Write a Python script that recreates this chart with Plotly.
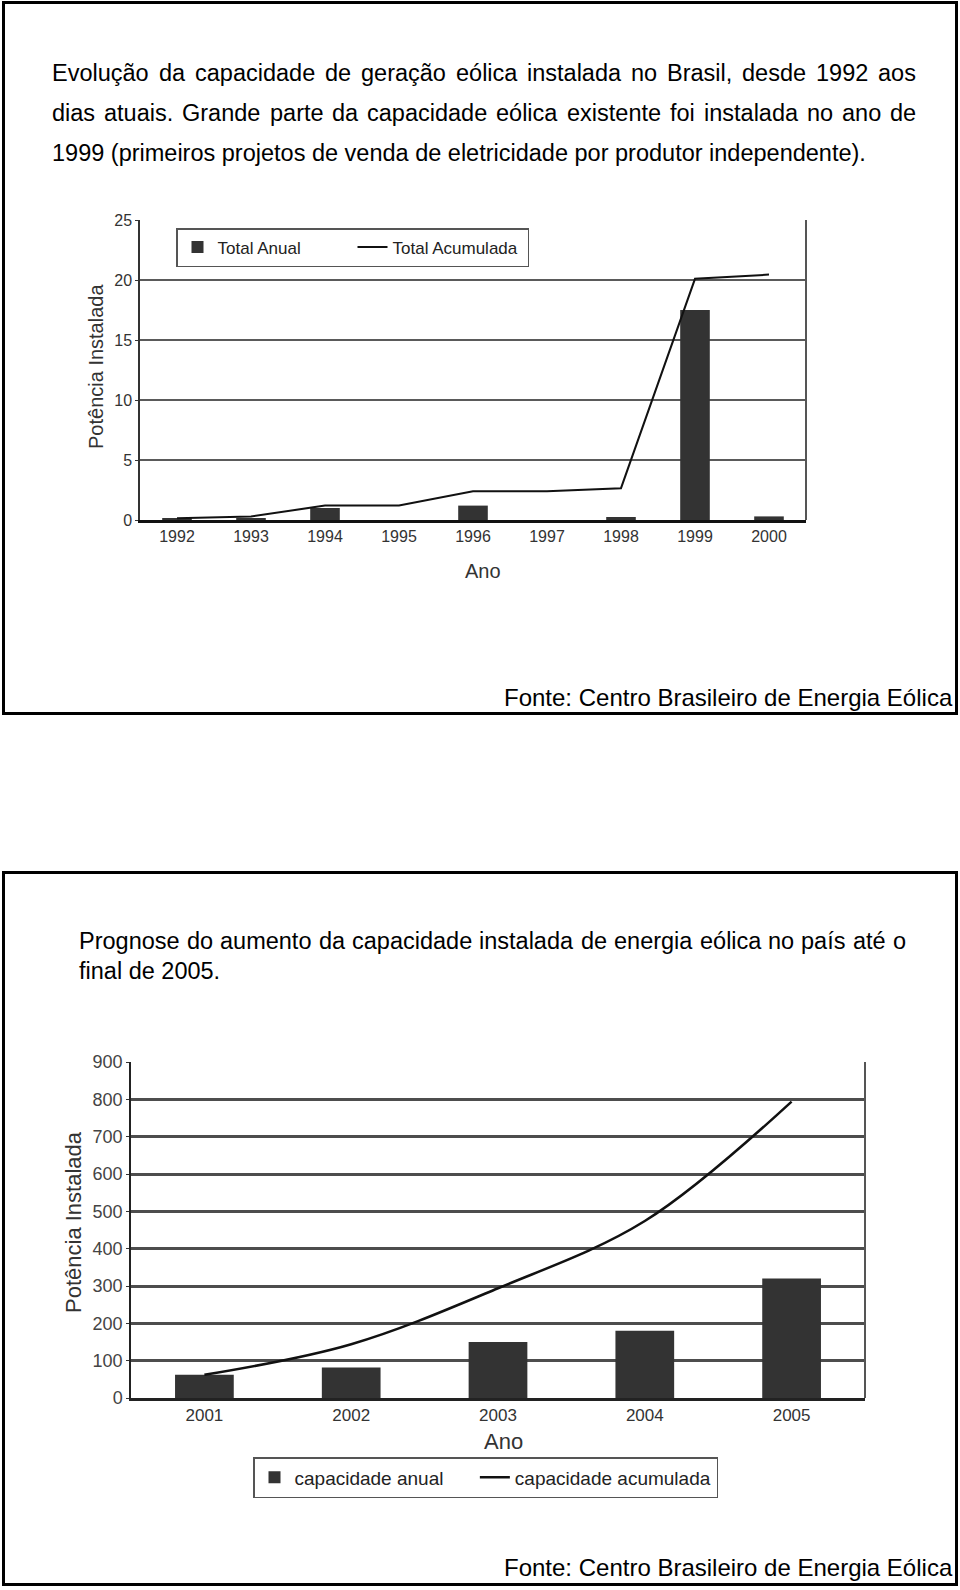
import plotly.graph_objects as go

# ---------------- data ----------------
anos1 = ["1992", "1993", "1994", "1995", "1996", "1997", "1998", "1999", "2000"]
total_anual = [0.15, 0.15, 1.0, 0.0, 1.2, 0.0, 0.25, 17.5, 0.3]
total_acumulada = [0.15, 0.3, 1.2, 1.2, 2.4, 2.4, 2.65, 20.1, 20.45]
yticks1 = [0, 5, 10, 15, 20, 25]

anos2 = ["2001", "2002", "2003", "2004", "2005"]
cap_anual = [62, 82, 150, 180, 320]
cap_acumulada = [62, 144, 294, 474, 794]
yticks2 = [0, 100, 200, 300, 400, 500, 600, 700, 800, 900]

par1 = [
    "Evolução da capacidade de geração eólica instalada no Brasil, desde 1992 aos",
    "dias atuais. Grande parte da capacidade eólica existente foi instalada no ano de",
    "1999 (primeiros projetos de venda de eletricidade por produtor independente).",
]
par2 = [
    "Prognose do aumento da capacidade instalada de energia eólica no país até o",
    "final de 2005.",
]
fonte = "Fonte: Centro Brasileiro de Energia Eólica"

W, H = 960, 1590
FONT = "Liberation Sans, Arial, sans-serif"


def px(x):
    return x / W


def py(y):
    return 1 - y / H


# Arial advance widths (1/1000 em)
AW = {}
for c in "abdeghnopqu": AW[c] = 556
for c in "ckszxvy": AW[c] = 500
AW.update({"f": 278, "i": 222, "j": 222, "l": 222, "m": 833, "r": 333, "t": 278, "w": 722})
AW.update({"ç": 500, "ã": 556, "ó": 556, "é": 556, "í": 278, "ê": 556, "á": 556})
AW.update({"A": 667, "B": 667, "C": 722, "E": 667, "F": 611, "G": 778, "P": 667, "T": 611, "I": 278})
for c in "0123456789": AW[c] = 556
AW.update({" ": 278, ",": 278, ".": 278, "(": 333, ")": 333, ":": 278})


def tw(s, size):
    return sum(AW.get(c, 556) for c in s) * size / 1000.0


annotations = []


def ann(text, x, y, size, color="#000", xanchor="left", angle=0):
    annotations.append(dict(text=text, x=px(x), y=py(y), xref="paper", yref="paper",
                            xanchor=xanchor, yanchor="middle", showarrow=False, borderpad=0,
                            textangle=angle, font=dict(family=FONT, size=size, color=color)))


def text_line(line, x0, x1, yc, size, justify):
    if not justify:
        ann(line, x0, yc, size)
        return
    words = line.split(" ")
    widths = [tw(w, size) for w in words]
    gap = max(0.278 * size, (x1 - x0 - sum(widths)) / (len(words) - 1))
    x = x0
    for w, wd in zip(words, widths):
        ann(w, x, yc, size)
        x += wd + gap


PS = 23.5
text_line(par1[0], 51, 915, 73, PS, True)
text_line(par1[1], 51, 915, 112.5, PS, True)
text_line(par1[2], 51, 915, 153, PS, False)
text_line(par2[0], 78, 905, 941, PS, True)
text_line(par2[1], 78, 905, 971, PS, False)

for yc in (697, 1567):
    ann(fonte, 954, yc, 24, xanchor="right")

# axis titles
ann("Potência Instalada", 96, 367, 20, color="#333", xanchor="center", angle=-90)
ann("Ano", 483, 571, 20, color="#333", xanchor="center")
ann("Potência Instalada", 73, 1222, 22, color="#333", xanchor="center", angle=-90)
ann("Ano", 503, 1441, 22, color="#333", xanchor="center")

fig = go.Figure()

# chart 1
fig.add_trace(go.Bar(x=anos1, y=total_anual, name="Total Anual", marker=dict(color="#333333", line=dict(width=0)),
                     width=0.4, xaxis="x", yaxis="y", legend="legend"))
fig.add_trace(go.Scatter(x=anos1, y=total_acumulada, name="Total Acumulada", mode="lines",
                         line=dict(color="#111", width=2), xaxis="x", yaxis="y", legend="legend"))
# chart 2
fig.add_trace(go.Bar(x=anos2, y=cap_anual, name="capacidade anual" + "\u00a0" * 5,
                     marker=dict(color="#333333", line=dict(width=0)),
                     width=0.4, xaxis="x2", yaxis="y2", legend="legend2"))
fig.add_trace(go.Scatter(x=anos2, y=cap_acumulada, name="capacidade acumulada", mode="lines",
                         line=dict(color="#111", width=2.5, shape="spline"), xaxis="x2", yaxis="y2",
                         legend="legend2"))

shapes = [
    dict(type="rect", xref="paper", yref="paper", x0=px(3.5), x1=px(956.5), y0=py(2.5), y1=py(713.5),
         line=dict(color="#000", width=3), fillcolor="rgba(0,0,0,0)"),
    dict(type="rect", xref="paper", yref="paper", x0=px(3.5), x1=px(956.5), y0=py(872.5), y1=py(1584.5),
         line=dict(color="#000", width=3), fillcolor="rgba(0,0,0,0)"),
    # right borders of plot areas
    dict(type="line", xref="x domain", yref="y domain", x0=1, x1=1, y0=0, y1=1,
         line=dict(color="#555", width=2)),
    dict(type="line", xref="x2 domain", yref="y2 domain", x0=1, x1=1, y0=0, y1=1,
         line=dict(color="#555", width=2)),
]

fig.update_layout(
    width=W, height=H, margin=dict(l=0, r=0, t=0, b=0, pad=0, autoexpand=False),
    paper_bgcolor="white", plot_bgcolor="white",
    font=dict(family=FONT, color="#333"),
    barmode="overlay",
    annotations=annotations, shapes=shapes,
    xaxis=dict(domain=[px(140), px(806)], anchor="y", type="category", range=[-0.5, 8.5],
               showline=True, linecolor="#111", linewidth=3, ticks="", showgrid=False,
               tickfont=dict(size=16, color="#333"), automargin=False),
    yaxis=dict(domain=[py(520), py(220)], anchor="x", range=[0, 25], tickvals=yticks1,
               showline=True, linecolor="#333", linewidth=1.5, ticks="outside", ticklen=3,
               tickcolor="#333", showgrid=True, gridcolor="#5a5a5a", gridwidth=2, zeroline=False,
               tickfont=dict(size=16, color="#333"), automargin=False),
    xaxis2=dict(domain=[px(131), px(865)], anchor="y2", type="category", range=[-0.5, 4.5],
                showline=True, linecolor="#222", linewidth=2.5, ticks="", showgrid=False,
                tickfont=dict(size=17, color="#333"), automargin=False),
    yaxis2=dict(domain=[py(1398), py(1062)], anchor="x2", range=[0, 900], tickvals=yticks2,
                showline=True, linecolor="#222", linewidth=1.5, ticks="outside", ticklen=3,
                tickcolor="#333", showgrid=True, gridcolor="#4d4d4d", gridwidth=2.5, zeroline=False,
                tickfont=dict(size=18, color="#444"), automargin=False),
    legend=dict(x=px(176), y=py(228), xanchor="left", yanchor="top", orientation="h",
                bgcolor="white", bordercolor="#555", borderwidth=1.5,
                font=dict(size=17, color="#222"), entrywidth=130, traceorder="normal",
                itemwidth=30),
    legend2=dict(x=px(253), y=py(1457), xanchor="left", yanchor="top", orientation="h",
                 bgcolor="white", bordercolor="#555", borderwidth=1.5,
                 font=dict(size=19, color="#222"), traceorder="normal", itemwidth=30),
    showlegend=True,
)

fig.write_html("out.html")
